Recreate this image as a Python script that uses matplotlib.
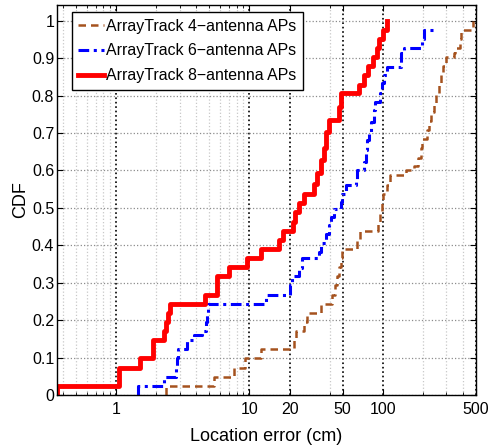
import numpy as np
import matplotlib
matplotlib.use('Agg')
from matplotlib import pyplot as plt
from matplotlib.ticker import FixedLocator, NullFormatter

plt.rcParams['font.family'] = ['Liberation Sans', 'DejaVu Sans']

# step points (error in cm, CDF value)
err_4 = [2.37, 2.37, 5.38, 7.6, 9.2, 12.1, 21.5, 22.5, 25.6, 27.2, 34.3, 41.8, 44, 45.5,
         47, 48.3, 49.4, 64.5, 68, 92, 96, 98, 100, 108, 114, 150, 171, 185, 193, 196,
         216, 222, 228, 240, 250, 262, 275, 285, 297, 340, 350, 380, 386, 475]
cdf_4 = [0.0, 0.024, 0.049, 0.073, 0.098, 0.122, 0.146, 0.171, 0.195, 0.220, 0.244, 0.268, 0.293, 0.317,
         0.341, 0.366, 0.390, 0.415, 0.439, 0.463, 0.488, 0.512, 0.537, 0.561, 0.587, 0.601, 0.611, 0.634, 0.660, 0.683,
         0.707, 0.732, 0.756, 0.780, 0.805, 0.829, 0.854, 0.878, 0.902, 0.915, 0.927, 0.951, 0.976, 1.0]

err_6 = [1.45, 1.45, 2.27, 2.83, 2.87, 2.9, 3.39, 3.81, 4.4, 4.75, 4.8, 4.85, 13.4, 20.1, 20.8,
         23.4, 24.9, 33.1, 34.3, 37.3, 39.4, 40.6, 42.9, 48.3, 49.4, 52.7, 62.5, 64.5, 72.3, 74.6,
         76.5, 78.8, 81, 85.8, 88, 96, 99, 102, 108, 136, 144, 198, 205, 253]
cdf_6 = [0.0, 0.024, 0.049, 0.073, 0.098, 0.122, 0.146, 0.160, 0.171, 0.195, 0.220, 0.244, 0.268, 0.293, 0.317,
         0.338, 0.365, 0.382, 0.405, 0.431, 0.454, 0.476, 0.498, 0.516, 0.538, 0.561, 0.578, 0.601, 0.623, 0.654,
         0.681, 0.703, 0.730, 0.761, 0.783, 0.806, 0.833, 0.855, 0.877, 0.913, 0.928, 0.951, 0.976, 0.976]

err_8 = [0.36, 0.36, 1.05, 1.52, 1.89, 2.27, 2.35, 2.43, 2.52, 4.67, 5.72, 7.0, 9.5, 12.3, 16.6,
         17.9, 21.3, 22.0, 23.4, 25.6, 30.3, 32.2, 34.3, 36.3, 37.3, 39.4, 46.8, 48.3, 66, 72.3,
         76.8, 85, 90, 93.5, 101, 107]
cdf_8 = [0.0, 0.024, 0.073, 0.098, 0.146, 0.171, 0.195, 0.220, 0.244, 0.268, 0.317, 0.341, 0.366, 0.390, 0.415,
         0.439, 0.463, 0.488, 0.512, 0.537, 0.565, 0.592, 0.628, 0.659, 0.703, 0.734, 0.770, 0.806, 0.828, 0.855,
         0.878, 0.902, 0.927, 0.951, 0.976, 1.0]

labels = ['ArrayTrack 4\u2212antenna APs', 'ArrayTrack 6\u2212antenna APs', 'ArrayTrack 8\u2212antenna APs']
major_x = [1, 10, 20, 50, 100, 500]
minor_x = [0.4, 0.5, 0.6, 0.7, 0.8, 0.9, 2, 3, 4, 5, 6, 7, 8, 9, 40, 200, 300, 400]

fig = plt.figure(figsize=(4.9, 4.48), dpi=100)
ax = fig.add_axes([57/490, 53/448, 419/490, 390/448])

ax.step(err_4, cdf_4, where='post', color='#A5521E', lw=1.8, dashes=(3, 2), label=labels[0])
ax.step(err_6, cdf_6, where='post', color='#0000FF', lw=2.2, dashes=(3.5, 1.5, 1, 1.5), label=labels[1])
ax.step(err_8, cdf_8, where='post', color='#FF0000', lw=3.5, label=labels[2])

ax.set_xscale('log')
ax.set_xlim(0.36, 500)
ax.set_ylim(0, 1.042)

ax.xaxis.set_major_locator(FixedLocator(major_x))
ax.xaxis.set_minor_locator(FixedLocator(minor_x))
ax.xaxis.set_minor_formatter(NullFormatter())
ax.set_xticklabels([str(v) for v in major_x])
ax.set_yticks(np.arange(0, 1.01, 0.1))
ax.set_yticklabels(['0'] + ['%.1f' % v for v in np.arange(0.1, 0.95, 0.1)] + ['1'])

# matlab style grid
ax.grid(True, which='minor', axis='x', color='#c8c8c8', ls=':', lw=0.9)
ax.grid(True, which='major', axis='x', color='black', ls=':', lw=1.2)
ax.grid(True, which='major', axis='y', color='#8c8c8c', ls=':', lw=0.9)
ax.set_axisbelow(True)

ax.tick_params(which='both', direction='in', top=True, right=True, labelsize=11.5)
ax.tick_params(axis='x', pad=5)
ax.tick_params(axis='y', pad=2)
ax.tick_params(which='major', length=4, width=0.8)
ax.tick_params(which='minor', length=2, width=0.6)
for s in ax.spines.values():
    s.set_linewidth(1.0)

ax.set_xlabel('Location error (cm)', fontsize=13, labelpad=8)
ax.set_ylabel('CDF', fontsize=13, labelpad=2)

leg = ax.legend(loc='upper left', bbox_to_anchor=(0.035, 0.982), borderaxespad=0,
                fontsize=11.4, fancybox=False, framealpha=1, edgecolor='black',
                handlelength=1.6, handletextpad=0.15, labelspacing=0.62, borderpad=0.42)
leg.get_frame().set_linewidth(1.0)

fig.savefig('out.png', dpi=100)
